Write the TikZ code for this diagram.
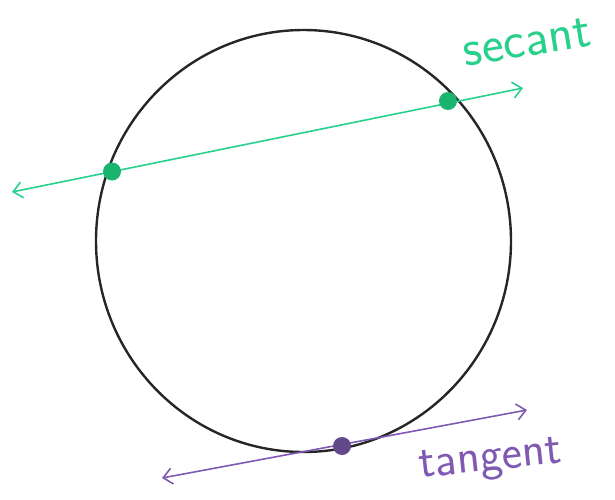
\documentclass[tikz,border=0pt]{standalone}
\usepackage{tikz}
\usetikzlibrary{arrows.meta}
\definecolor{secgreen}{RGB}{40,208,140}
\definecolor{secdot}{RGB}{25,180,110}
\definecolor{tanpurple}{RGB}{128,90,178}
\definecolor{tandot}{RGB}{100,72,140}
\tikzset{
	ray/.style={line width=1.6pt, {Straight Barb[length=9pt,width=16pt]}-{Straight Barb[length=9pt,width=16pt]}},
	word/.style={font=\sffamily\fontsize{#1}{#1}\selectfont, inner sep=0pt}
}
\begin{document}
\begin{tikzpicture}[x=1pt,y=-1pt]
	\useasboundingbox (0,0) rectangle (615,500);
	\def\pt#1#2{\fill[#1] (#2) circle (9);}
	\draw[line width=2.4pt, black!85] (303.5,241) ellipse (207.5 and 211);
	% secant
	\coordinate (secL) at (12,192);
	\coordinate (secR) at (523,88);
	\coordinate (secA) at (112,171.5);
	\coordinate (secB) at (448,101);
	\draw[ray, secgreen] (secL) -- (secR);
	\pt{secdot}{secA}\pt{secdot}{secB}
	\node[word=52, text=secgreen, rotate=9] (secant) at (527,42) {secant};
	% tangent
	\coordinate (tanL) at (162,478);
	\coordinate (tanR) at (527,410);
	\coordinate (tanP) at (342,446);
	\draw[ray, tanpurple] (tanL) -- (tanR);
	\pt{tandot}{tanP}
	\node[word=48, text=tanpurple, rotate=6] (tangent) at (491,462) {tangent};
\end{tikzpicture}
\end{document}
